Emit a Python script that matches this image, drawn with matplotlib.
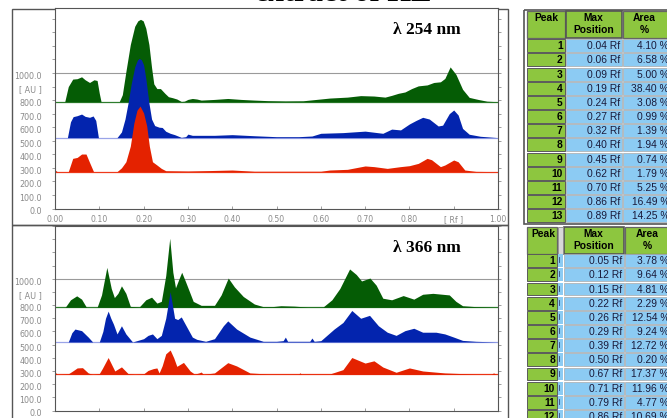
import numpy as np
import matplotlib as mpl
mpl.use('Agg')
import matplotlib.pyplot as plt
import matplotlib.transforms as mtrans
from matplotlib.patches import Rectangle

# ---- densitogram traces, lambda 254 nm (Rf, AU) ----
top_rf_green = [0.0, 0.022, 0.03, 0.04, 0.05, 0.06, 0.068, 0.078, 0.088, 0.095,
                0.10, 0.104, 0.145, 0.152, 0.16, 0.17, 0.18, 0.187, 0.193, 0.199, 0.205, 0.212,
                0.218, 0.223, 0.23, 0.238, 0.248, 0.256, 0.265, 0.275, 0.285, 0.292,
                0.30, 0.31, 0.32, 0.33, 0.36, 0.39, 0.42, 0.45, 0.48, 0.52,
                0.56, 0.59, 0.62, 0.66, 0.69, 0.72, 0.745, 0.76, 0.775, 0.79,
                0.805, 0.82, 0.84, 0.855, 0.87, 0.88, 0.892, 0.905, 0.92, 0.935,
                0.955, 0.975, 1.0]
top_au_green = [788, 788, 900, 955, 958, 972, 950, 930, 950, 945,
                850, 788, 788, 840, 1010, 1210, 1345, 1385, 1396, 1385, 1330, 1210,
                1040, 920, 885, 885, 850, 825, 818, 808, 790, 792,
                805, 812, 808, 800, 805, 812, 805, 800, 796, 794,
                795, 805, 815, 822, 833, 830, 822, 835, 850, 860,
                885, 905, 912, 930, 935, 960, 1045, 990, 880, 820,
                805, 792, 788]

top_rf_blue = [0.0, 0.028, 0.035, 0.041, 0.05, 0.06, 0.068, 0.078, 0.086, 0.092,
               0.098, 0.14, 0.15, 0.158, 0.165, 0.172, 0.18, 0.186, 0.19, 0.195, 0.2, 0.205,
               0.212, 0.218, 0.225, 0.235, 0.242, 0.25, 0.26, 0.27, 0.285, 0.295,
               0.30, 0.31, 0.33, 0.36, 0.40, 0.45, 0.50, 0.55, 0.58, 0.60,
               0.65, 0.70, 0.74, 0.76, 0.78, 0.80, 0.815, 0.83, 0.845, 0.865,
               0.875, 0.89, 0.90, 0.91, 0.92, 0.935, 0.96, 1.0]
top_au_blue = [523, 523, 640, 678, 685, 697, 680, 673, 683, 650,
               523, 523, 565, 660, 780, 920, 1045, 1095, 1108, 1098, 1060, 960,
               780, 660, 612, 600, 598, 570, 555, 545, 525, 530,
               549, 540, 540, 540, 545, 537, 530, 530, 535, 555,
               560, 571, 555, 586, 580, 624, 650, 673, 660, 609,
               615, 700, 727, 690, 591, 548, 533, 523]

top_rf_red = [0.0, 0.005, 0.03, 0.04, 0.05, 0.06, 0.07, 0.078, 0.087, 0.14,
              0.15, 0.16, 0.17, 0.178, 0.185, 0.192, 0.20, 0.207, 0.213, 0.22,
              0.23, 0.24, 0.25, 0.30, 0.35, 0.40, 0.45, 0.60, 0.62, 0.66,
              0.70, 0.72, 0.75, 0.78, 0.80, 0.82, 0.84, 0.85, 0.87, 0.88,
              0.90, 0.91, 0.925, 0.95, 1.0]
top_au_red = [284, 272, 272, 370, 377, 402, 402, 340, 272, 272,
              300, 345, 460, 630, 725, 756, 705, 610, 460, 345,
              321, 296, 279, 277, 280, 284, 275, 275, 284, 289,
              314, 309, 296, 309, 316, 333, 370, 360, 309, 321,
              358, 345, 284, 274, 272]

# ---- densitogram traces, lambda 366 nm (Rf, AU) ----
bot_rf_green = [0.0, 0.023, 0.035, 0.049, 0.06, 0.071, 0.095, 0.105, 0.117, 0.127,
                0.134, 0.142, 0.15, 0.16, 0.17, 0.19, 0.205, 0.218, 0.23, 0.24,
                0.25, 0.259, 0.266, 0.272, 0.28, 0.286, 0.295, 0.312, 0.33, 0.36,
                0.375, 0.391, 0.405, 0.425, 0.45, 0.47, 0.49, 0.51, 0.54, 0.57,
                0.605, 0.625, 0.643, 0.665, 0.68, 0.692, 0.711, 0.725, 0.74, 0.76,
                0.786, 0.81, 0.83, 0.853, 0.89, 0.905, 0.92, 0.95, 1.0]
bot_au_green = [783, 783, 840, 870, 845, 783, 783, 877, 1086, 926,
                857, 889, 946, 889, 790, 785, 840, 860, 815, 828,
                1024, 1307, 1049, 931, 1000, 1049, 975, 828, 798, 798,
                877, 1005, 938, 865, 808, 788, 788, 795, 792, 785,
                785, 840, 926, 1074, 1032, 983, 1005, 951, 852, 840,
                872, 845, 882, 889, 877, 828, 795, 788, 783]

bot_rf_blue = [0.0, 0.03, 0.038, 0.045, 0.06, 0.075, 0.085, 0.1, 0.108, 0.114,
               0.12, 0.126, 0.132, 0.14, 0.15, 0.16, 0.175, 0.2, 0.21, 0.22,
               0.23, 0.24, 0.25, 0.26, 0.27, 0.277, 0.285, 0.3, 0.31, 0.32,
               0.34, 0.36, 0.38, 0.39, 0.41, 0.44, 0.47, 0.5, 0.515, 0.52,
               0.525, 0.575, 0.58, 0.585, 0.6, 0.63, 0.65, 0.67, 0.69, 0.71,
               0.73, 0.75, 0.77, 0.79, 0.81, 0.83, 0.86, 0.88, 0.9, 0.92,
               0.95, 1.0]
bot_au_blue = [520, 520, 590, 618, 606, 557, 520, 520, 600, 700,
               754, 700, 655, 581, 643, 581, 520, 545, 570, 581,
               545, 570, 700, 902, 700, 690, 710, 618, 557, 540,
               525, 545, 643, 680, 618, 557, 525, 525, 530, 557,
               525, 525, 550, 525, 530, 618, 668, 759, 700, 722,
               643, 594, 570, 606, 624, 594, 594, 581, 557, 532,
               525, 520]

bot_rf_red = [0.0, 0.005, 0.03, 0.04, 0.05, 0.062, 0.075, 0.085, 0.1, 0.107,
              0.12, 0.135, 0.15, 0.165, 0.18, 0.2, 0.21, 0.222, 0.23, 0.235,
              0.242, 0.25, 0.26, 0.268, 0.275, 0.29, 0.305, 0.315, 0.325, 0.33,
              0.335, 0.36, 0.39, 0.41, 0.44, 0.48, 0.55, 0.553, 0.556, 0.62,
              0.65, 0.67, 0.7, 0.72, 0.74, 0.77, 0.8, 0.83, 0.88, 0.95,
              0.985, 0.99, 0.995, 1.0]
bot_au_red = [292, 274, 278, 300, 323, 325, 285, 274, 280, 320,
              402, 300, 331, 280, 274, 278, 304, 318, 323, 285,
              340, 430, 459, 400, 335, 365, 300, 276, 285, 292,
              274, 285, 363, 338, 285, 277, 277, 286, 277, 277,
              310, 402, 360, 377, 330, 290, 323, 300, 285, 276,
              276, 285, 276, 274]

top_bases = [788, 523, 272]
bot_bases = [783, 520, 274]

# ---- peak tables ----
top_peak_pos = [0.04, 0.06, 0.09, 0.19, 0.24, 0.27, 0.32, 0.40, 0.45, 0.62, 0.70, 0.86, 0.89]
top_peak_area = [4.10, 6.58, 5.00, 38.40, 3.08, 0.99, 1.39, 1.94, 0.74, 1.79, 5.25, 16.49, 14.25]
bot_peak_pos = [0.05, 0.12, 0.15, 0.22, 0.26, 0.29, 0.39, 0.50, 0.67, 0.71, 0.79, 0.86]
bot_peak_area = [3.78, 9.64, 4.81, 2.29, 12.54, 9.24, 12.72, 0.20, 17.37, 11.96, 4.77, 10.69]

y_ticks = [0, 100, 200, 300, 400, 500, 600, 700, 800, 900, 1000, 1100, 1200, 1300, 1400]
y_labels = ['0.0', '100.0', '200.0', '300.0', '400.0', '500.0', '600.0', '700.0',
            '800.0', '[ AU ]', '1000.0', '', '', '', '']
x_ticks = [0.0, 0.1, 0.2, 0.3, 0.4, 0.5, 0.6, 0.7, 0.8, 0.9, 1.0]
x_labels = ['0.00', '0.10', '0.20', '0.30', '0.40', '0.50', '0.60', '0.70', '0.80', '[ Rf ]', '1.00']

colors = ['#055c05', '#0324AE', '#E42200']
base_colors = ['#2e7d2e', '#9aa4e8', '#ee3a1c']

W, H = 667, 418
fig = plt.figure(figsize=(W / 100, H / 100), dpi=100)
fig.patch.set_facecolor('white')


def px_axes(x0, y0, x1, y1):
    return fig.add_axes([x0 / W, 1 - y1 / H, (x1 - x0) / W, (y1 - y0) / H])


ov = fig.add_axes([0, 0, 1, 1], zorder=0)
ov.set_xlim(0, W)
ov.set_ylim(H, 0)
ov.axis('off')

label_shift = mtrans.ScaledTranslation(0, -2.5 / 100, fig.dpi_scale_trans)


def densitogram(y0, y1, ytop, traces, bases, title, xpad):
    ax = px_axes(55, y0, 498, y1)
    ax.set_zorder(2)
    ax.set_xlim(0, 1)
    ax.set_ylim(0, ytop)
    ax.axhline(1000, color='#9a9a9a', lw=0.8, zorder=0)
    for (rf, au), base, c, bc in zip(traces, bases, colors, base_colors):
        ax.fill_between(rf, base, au, color=c, lw=0, zorder=2)
        ax.axhline(base, color=bc, lw=0.9, zorder=1.5)
    ax.set_yticks(y_ticks)
    ax.set_yticklabels(y_labels)
    ax.set_xticks(x_ticks)
    ax.set_xticklabels(x_labels)
    ax.tick_params(axis='y', direction='out', length=2.5, width=0.5, color='#777777',
                   labelsize=5.8, labelcolor='#8a8a8a', pad=7, right=True)
    ax.tick_params(axis='x', direction='in', length=2.5, width=0.5, color='#777777',
                   labelsize=5.6, labelcolor='#8a8a8a', pad=xpad)
    for lab in ax.get_yticklabels():
        lab.set_transform(lab.get_transform() + label_shift)
    for s in ax.spines.values():
        s.set_color('#555555')
        s.set_linewidth(0.8)
    ax.text(0.762, 1 - 26 / (y1 - y0), title, transform=ax.transAxes,
            fontsize=12.5, fontweight='bold', family='Liberation Serif',
            ha='left', va='baseline')
    return ax


densitogram(8.5, 208.5, 200 / 0.1355,
            [(top_rf_green, top_au_green), (top_rf_blue, top_au_blue), (top_rf_red, top_au_red)],
            top_bases, '\u03bb 254 nm', 4.5)
densitogram(226, 410.5, 184.5 / 0.1355,
            [(bot_rf_green, bot_au_green), (bot_rf_blue, bot_au_blue), (bot_rf_red, bot_au_red)],
            bot_bases, '\u03bb 366 nm', 6.5)

# panel frames
ov.add_patch(Rectangle((12, 8.5), 496, 216.5, fill=False, ec='#555555', lw=1))
ov.add_patch(Rectangle((12, 225), 496, 210, fill=False, ec='#555555', lw=1))

# cut-off title
ov.text(343, 1.0, 'extract of HE', fontsize=22, fontweight='bold',
        family='Liberation Serif', ha='center', va='baseline')

green_cell = '#8DC63F'
blue_cell = '#8CCBF3'
FS = 7.4


def cell(x0, y0, x1, y1, color, ec='#7a7a7a', lw=0.7):
    ov.add_patch(Rectangle((x0, y0), x1 - x0, y1 - y0, fc=color, ec=ec, lw=lw))


def table(top, peak_x, sep, max_x, area_x, pos, area, row0, step):
    cell(peak_x[0], top, peak_x[1], top + 27, green_cell, ec='#666666', lw=0.9)
    cell(max_x[0], top, max_x[1], top + 27, green_cell, ec='#555555', lw=1.2)
    cell(area_x[0], top, area_x[1], top + 27, green_cell, ec='#666666', lw=0.9)
    bold = dict(fontsize=FS, fontweight='bold', family='Liberation Sans', ha='center', va='center')
    ov.text((peak_x[0] + peak_x[1]) / 2 + 1, top + 7, 'Peak', **bold)
    ov.text((max_x[0] + max_x[1]) / 2, top + 7, 'Max', **bold)
    ov.text((max_x[0] + max_x[1]) / 2, top + 19, 'Position', **bold)
    ov.text(area_x[0] + 22, top + 7, 'Area', **bold)
    ov.text(area_x[0] + 22, top + 19, '%', **bold)
    if sep is not None:
        ov.add_patch(Rectangle((sep[0], top), sep[1] - sep[0], 27, fc='#d8d8d8', ec='#888888', lw=0.6))
    for i, (p, a) in enumerate(zip(pos, area)):
        y = row0 + i * step
        cell(peak_x[0], y, peak_x[1], y + step - 1.3, green_cell, ec='#5a5a5a', lw=0.7)
        if sep is not None:
            cell(sep[0], y, sep[1], y + step - 1.3, blue_cell, ec='none', lw=0)
            ov.plot([sep[0] + 1, sep[0] + 1], [y + 3, y + 8], color='#334477', lw=0.6)
        cell(max_x[0], y, max_x[1], y + step - 1.3, blue_cell, ec='#aaaaaa', lw=0.5)
        cell(area_x[0], y, area_x[1], y + step - 1.3, blue_cell, ec='#aaaaaa', lw=0.5)
        yc = y + (step - 1.3) / 2 + 0.5
        ov.text(peak_x[1] - 2, yc, str(i + 1), fontsize=FS, fontweight='bold',
                family='Liberation Sans', ha='right', va='center')
        ov.text(max_x[1] - 1.5, yc, f'{p:.2f} Rf', fontsize=FS, color='#1a1a3a',
                family='Liberation Sans', ha='right', va='center')
        ov.text(669, yc, f'{a:.2f} %', fontsize=FS, color='#1a1a3a',
                family='Liberation Sans', ha='right', va='center')


ov.add_patch(Rectangle((524, 10), 160, 213.5, fill=False, ec='#555555', lw=1.2))
table(11, (527, 564.5), None, (566, 621.5), (622.5, 680),
      top_peak_pos, top_peak_area, 39.3, 14.17)
table(226.7, (527, 557), (558, 562.5), (563.5, 623.5), (625, 680),
      bot_peak_pos, bot_peak_area, 254.3, 14.15)

fig.savefig('out.png', dpi=100)
